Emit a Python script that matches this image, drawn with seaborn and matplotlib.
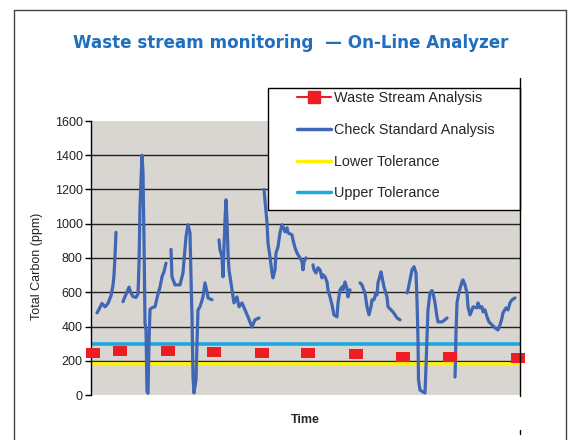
import numpy as np
import pandas as pd
import matplotlib
matplotlib.use("Agg")
import matplotlib.pyplot as plt
from matplotlib.lines import Line2D
from matplotlib.patches import Rectangle
import seaborn as sns

# ---------------------------------------------------------------
# data (time index, ppm) - NaN marks a gap in the analyzer record
# ---------------------------------------------------------------
waste_time = [2, 29, 77, 123, 171, 217, 265, 312, 359, 427]
waste_ppm = [248, 257, 257, 251, 245, 245, 240, 222, 222, 216]

check_time = [
    6, 8, 11, 14, 17, 20, 22, 23, 24, 25, np.nan,
    32, 34, 36, 38, 40, 42, 45, 47, 48, 49, 51, 52, 53,
    54, 55, 56, 57, 58, 59, 61, 64, 67, 69, 71, 73, 75, np.nan,
    80, 81, 84, 89, 92, 95, 97, 99, 100, 101, 102,
    103, 105, 106, 107, 109, 112, 114, 116, 117, 121, np.nan,
    128, 129, 131, 132, 133, 134, 135, 136, 137, 138,
    141, 143, 146, 148, 151, 154, 157, 161, 164, 168, np.nan,
    173, 176, 177, 179, 181, 182, 184, 185, 187, 189, 191, 192, 194,
    196, 197, 201, 202, 204, 206, 207, 209, 211, 212, 213, 215, np.nan,
    222, 223, 225, 227, 229, 231, 232, 234, 236, 237, 239,
    241, 243, 246, 247, 249, 251, 252, 254, 256, 257, 259, np.nan,
    269, 271, 272, 274, 276, 278, 280, 281, 283, 285, 286,
    287, 290, 291, 293, 296, 297, 300, 302, 304, 306, 309, np.nan,
    316, 317, 319, 321, 323, 325, 326, 327, 327.5, 329, 332, 334,
    335, 336, 337, 339, 341, 342, 344, 346, 347, 351, 354, 356, np.nan,
    364, 364.5, 365, 366, 368, 371, 372, 374, 376, 377, 379, 381, 382, 386, 387, 389,
    391, 392, 394, 396, 398, 401, 404, 407, 409, 411, 412, 415, 417, 419, 421, 424,
]
check_ppm = [
    480, 500, 535, 515, 535, 580, 640, 700, 810, 950, np.nan,
    545, 575, 600, 630, 595, 575, 570, 590, 760, 1100, 1400, 1300, 900,
    420, 380, 20, 10, 300, 500, 510, 515, 590, 630, 690, 720, 770, np.nan,
    850, 690, 643, 643, 713, 924, 994, 947, 690, 456, 105,
    12, 88, 304, 497, 515, 573, 655, 602, 567, 556, np.nan,
    906, 848, 807, 690, 865, 1023, 1140, 1023, 830, 731,
    614, 538, 573, 515, 538, 497, 456, 397, 439, 450, np.nan,
    1200, 1006, 888, 807, 713, 684, 731, 830, 865, 947, 994, 982, 953,
    976, 947, 935, 906, 860, 830, 819, 801, 778, 731, 778, 801, np.nan,
    760, 731, 713, 743, 731, 684, 702, 690, 661, 614, 573,
    526, 468, 456, 538, 614, 631, 614, 660, 620, 573, 614, np.nan,
    655, 643, 626, 596, 515, 468, 515, 556, 556, 596, 585,
    655, 719, 690, 631, 573, 515, 497, 485, 468, 450, 439, np.nan,
    596, 614, 672, 731, 749, 713, 556, 322, 88, 29, 18, 12,
    164, 339, 497, 596, 610, 596, 538, 456, 427, 427, 439, 450, np.nan,
    105, 205, 363, 538, 602, 661, 672, 643, 596, 515, 468, 497, 515, 509, 538, 509,
    515, 485, 497, 456, 427, 409, 392, 380, 409, 450, 480, 509, 497, 538, 556, 567,
]

lower_tolerance = 180
upper_tolerance = 300

y_ticks = [0, 200, 400, 600, 800, 1000, 1200, 1400, 1600]

# segment ids so that every gap breaks the line
check = pd.DataFrame({"time": check_time, "ppm": check_ppm})
check["segment"] = check["time"].isna().cumsum()
check = check.dropna()
waste = pd.DataFrame({"time": waste_time, "ppm": waste_ppm})

# ---------------------------------------------------------------
# figure
# ---------------------------------------------------------------
sns.set_style("white")
plt.rcParams["font.family"] = ["Liberation Sans", "DejaVu Sans"]

blue = "#3f67b3"
red = "#ee1c25"
yellow = "#fff200"
cyan = "#1ba9e1"
W, H = 568, 440

fig = plt.figure(figsize=(W / 100, H / 100), dpi=100)
ax = fig.add_axes([91 / W, 1 - 395 / H, 429 / W, 274 / H])
ax.set_facecolor("#d9d5d1")

ax.axhline(upper_tolerance, color=cyan, lw=2.6, zorder=2)
ax.axhline(lower_tolerance, color=yellow, lw=2.6, zorder=2)

sns.lineplot(data=check, x="time", y="ppm", units="segment", estimator=None,
             color=blue, lw=2.3, ax=ax, zorder=3, legend=False)
rect_marker = [(-1, -0.72), (1, -0.72), (1, 0.72), (-1, 0.72), (-1, -0.72)]
sns.scatterplot(data=waste, x="time", y="ppm", marker=rect_marker, s=110,
                color=red, edgecolor=red, linewidth=0, ax=ax, zorder=4,
                clip_on=False, legend=False)

ax.set_xlim(0, 429)
ax.set_ylim(0, 1600)
ax.set_yticks(y_ticks)
ax.set_yticklabels([str(v) for v in y_ticks], fontsize=9, color="#222222")
ax.set_xticks([])
ax.tick_params(axis="y", direction="out", length=4, width=1, color="black",
               left=True, pad=2)

ax.grid(axis="y", color="#222222", lw=1.0)
gl = ax.get_ygridlines()
gl[0].set_visible(False)
gl[-1].set_visible(False)
ax.set_axisbelow(True)

for side in ["top", "bottom", "right"]:
    ax.spines[side].set_visible(False)
ax.spines["left"].set_color("black")
ax.spines["left"].set_linewidth(1.0)

ax.set_ylabel("Total Carbon (ppm)", fontsize=9, color="#222222")
ax.yaxis.set_label_coords((43 - 91) / 429, (395 - 266) / 274)
ax.set_xlabel("Time", fontsize=9, fontweight="bold", labelpad=14)

# right edge of chart area, running up past the legend box
fig.add_artist(Line2D([520 / W, 520 / W], [1 - 396 / H, 1 - 78 / H],
                      transform=fig.transFigure, color="black", lw=1.0,
                      zorder=12))
fig.add_artist(Line2D([520 / W, 520 / W], [1 - 434 / H, 1 - 430 / H],
                      transform=fig.transFigure, color="black", lw=1.0))

# legend box sits partly above the plot area
fig.add_artist(Rectangle((268 / W, 1 - 210 / H), 252 / W, 122 / H,
                         transform=fig.transFigure, facecolor="white",
                         edgecolor="black", lw=1.0, zorder=10))
handles = [
    Line2D([], [], color=red, lw=1.5, marker="s", markersize=8),
    Line2D([], [], color=blue, lw=2.5),
    Line2D([], [], color=yellow, lw=2.5),
    Line2D([], [], color=cyan, lw=2.5),
]
labels = ["Waste Stream Analysis", "Check Standard Analysis",
          "Lower Tolerance", "Upper Tolerance"]
leg = fig.legend(handles, labels, loc="upper left",
                 bbox_to_anchor=(293 / W, 1 - 87 / H),
                 frameon=False, fontsize=10.4, handlelength=2.35,
                 handletextpad=0.2, labelspacing=1.22, borderpad=0.3,
                 borderaxespad=0)
leg.set_zorder(11)

fig.text(291 / W, 1 - 43 / H, "Waste stream monitoring  \u2014 On-Line Analyzer",
         ha="center", va="center", fontsize=12.1, fontweight="bold",
         color="#1f6fbe", family=["DejaVu Sans"])

# outer frame of the panel
fig.add_artist(Line2D([14 / W, 14 / W, 566 / W, 566 / W],
                      [0, 1 - 10 / H, 1 - 10 / H, 0],
                      transform=fig.transFigure, color="#444444", lw=1.0))

fig.savefig("out.png", dpi=100)
